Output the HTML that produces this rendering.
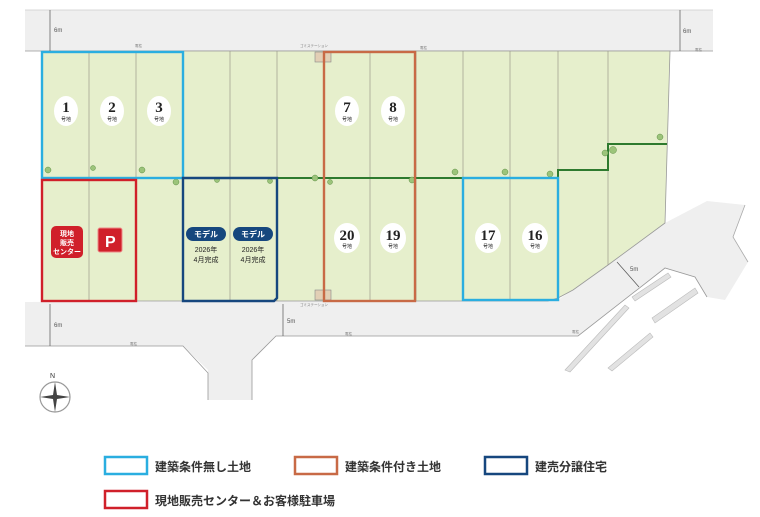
<!DOCTYPE html>
<html><head><meta charset="utf-8"><style>
html,body{margin:0;padding:0;background:#fff;}
svg{display:block;font-family:"Liberation Sans","Noto Sans CJK JP",sans-serif;}
</style></head><body>
<svg width="760" height="517" viewBox="0 0 760 517" xmlns="http://www.w3.org/2000/svg">
<rect x="25" y="10" width="688" height="41" fill="#efefef"/>
<line x1="25" y1="51" x2="713" y2="51" stroke="#999" stroke-width="0.8"/>
<line x1="25" y1="10" x2="713" y2="10" stroke="#ccc" stroke-width="0.8"/>
<polygon points="25,302 558,300 608,265 665,223 707,201 745,205 733,237 748,262 725,300 707,297 695,277 665,268 578,336 276,336 252,360 252,400 208,400 208,370 183,346 25,346" fill="#efefef"/>
<polyline points="25,346 183,346 208,373 208,400" fill="none" stroke="#999" stroke-width="0.8"/>
<polyline points="252,400 252,360 276,336 578,336 665,268 695,277 707,297" fill="none" stroke="#999" stroke-width="0.8"/>
<polyline points="745,205 733,237 748,262" fill="none" stroke="#aaa" stroke-width="0.8"/>
<g fill="#e2e2e2" stroke="#bbb" stroke-width="0.6">
<polygon points="632,297 668,273 671,277 635,301"/>
<polygon points="652,318 695,288 698,293 655,323"/>
<polygon points="565,370 625,305 629,308 570,372"/>
<polygon points="608,368 650,333 653,337 612,371"/>
</g>
<polygon points="42,51 670,51 665,223 608,265 573,290 558,298 548,301 42,301" fill="#e6efcc" stroke="#999" stroke-width="0.8"/>
<g stroke="#9a9a8a" stroke-width="0.7">
<line x1="89" y1="51" x2="89" y2="301"/><line x1="136" y1="51" x2="136" y2="301"/>
<line x1="183" y1="51" x2="183" y2="301"/><line x1="230" y1="51" x2="230" y2="301"/>
<line x1="277" y1="51" x2="277" y2="301"/><line x1="324" y1="51" x2="324" y2="301"/>
<line x1="370" y1="51" x2="370" y2="301"/><line x1="416" y1="51" x2="416" y2="301"/>
<line x1="463" y1="51" x2="463" y2="301"/><line x1="510" y1="51" x2="510" y2="301"/>
<line x1="558" y1="51" x2="558" y2="298"/><line x1="608" y1="51" x2="608" y2="265"/>
<line x1="42" y1="178" x2="183" y2="178"/>
</g>
<polyline points="183,178 558,178 558,170 608,170 608,144 667,144" fill="none" stroke="#2e7a2e" stroke-width="2"/>
<g fill="#9cc47a" stroke="#5e8f45" stroke-width="0.5">
<circle cx="48" cy="170" r="3"/><circle cx="93" cy="168" r="2.5"/><circle cx="142" cy="170" r="3"/><circle cx="176" cy="182" r="3"/><circle cx="217" cy="180" r="2.5"/><circle cx="270" cy="181" r="2.5"/><circle cx="315" cy="178" r="3"/><circle cx="330" cy="182" r="2.5"/><circle cx="412" cy="180" r="3"/><circle cx="455" cy="172" r="3"/><circle cx="505" cy="172" r="3"/><circle cx="550" cy="174" r="3"/><circle cx="605" cy="153" r="3"/><circle cx="613" cy="150" r="3.5"/><circle cx="660" cy="137" r="3"/>
</g>
<rect x="315" y="52" width="16" height="10" fill="#e2cfb5" stroke="#888" stroke-width="0.6"/>
<rect x="315" y="290" width="16" height="10" fill="#e2cfb5" stroke="#888" stroke-width="0.6"/>
<rect x="42" y="52" width="141" height="126" fill="none" stroke="#2aaee0" stroke-width="2.4"/>
<rect x="42" y="180" width="94" height="121" fill="none" stroke="#d0202a" stroke-width="2.4"/>
<path d="M183,178 H277 V298 L274,301 H183 Z" fill="none" stroke="#16477e" stroke-width="2.4"/>
<rect x="324" y="52" width="91" height="249" fill="none" stroke="#c86a46" stroke-width="2.4"/>
<rect x="463" y="178" width="95" height="122" fill="none" stroke="#2aaee0" stroke-width="2.4"/>
<g font-family="'Liberation Serif',serif" font-weight="bold" fill="#222" text-anchor="middle">
<g fill="#fff"><ellipse cx="66" cy="111" rx="12" ry="15"/><ellipse cx="112" cy="111" rx="12" ry="15"/><ellipse cx="159" cy="111" rx="12" ry="15"/><ellipse cx="347" cy="111" rx="12" ry="15"/><ellipse cx="393" cy="111" rx="12" ry="15"/><ellipse cx="347" cy="238" rx="13" ry="15"/><ellipse cx="393" cy="238" rx="13" ry="15"/><ellipse cx="488" cy="238" rx="13" ry="15"/><ellipse cx="535" cy="238" rx="13" ry="15"/></g>
<text x="66" y="112" font-size="15">1</text><text x="112" y="112" font-size="15">2</text><text x="159" y="112" font-size="15">3</text><text x="347" y="112" font-size="15">7</text><text x="393" y="112" font-size="15">8</text><text x="347" y="240" font-size="15">20</text><text x="393" y="240" font-size="15">19</text><text x="488" y="240" font-size="15">17</text><text x="535" y="240" font-size="15">16</text>
<g font-size="5" font-family="'Liberation Sans','Noto Sans CJK JP',sans-serif" font-weight="normal"><text x="66" y="121">号地</text><text x="112" y="121">号地</text><text x="159" y="121">号地</text><text x="347" y="121">号地</text><text x="393" y="121">号地</text><text x="347" y="248">号地</text><text x="393" y="248">号地</text><text x="488" y="248">号地</text><text x="535" y="248">号地</text></g>
</g>
<rect x="51" y="226" width="32" height="32" rx="5" fill="#d0202a"/>
<g fill="#fff" font-size="7" font-weight="bold" text-anchor="middle"><text x="67" y="236">現地</text><text x="67" y="245">販売</text><text x="67" y="254">センター</text></g>
<rect x="98" y="228" width="24" height="24" rx="2" fill="#d0202a" stroke="#e88" stroke-width="1"/>
<text x="105" y="247" fill="#fff" font-size="16" font-weight="bold">P</text>
<rect x="186" y="227" width="40" height="14" rx="7" fill="#16477e"/><rect x="233" y="227" width="40" height="14" rx="7" fill="#16477e"/>
<g font-size="8" text-anchor="middle" font-weight="bold"><text x="206" y="237" fill="#fff">モデル</text><text x="253" y="237" fill="#fff">モデル</text></g>
<g font-size="7" text-anchor="middle" fill="#222"><text x="206" y="252">2026年</text><text x="206" y="262">4月完成</text><text x="253" y="252">2026年</text><text x="253" y="262">4月完成</text></g>
<g stroke="#555" stroke-width="0.7"><line x1="50" y1="10" x2="50" y2="51"/><line x1="680" y1="10" x2="680" y2="51"/><line x1="50" y1="304" x2="50" y2="346"/><line x1="283" y1="304" x2="283" y2="336"/><line x1="617" y1="262" x2="639" y2="287"/></g>
<g font-size="6" fill="#555"><text x="54" y="32">6m</text><text x="683" y="33">6m</text><text x="54" y="327">6m</text><text x="287" y="323">5m</text><text x="630" y="271">5m</text></g>
<g font-size="3.5" fill="#777"><text x="300" y="47">ゴミステーション</text><text x="300" y="306">ゴミステーション</text><text x="135" y="47">電柱</text><text x="420" y="49">電柱</text><text x="695" y="51">電柱</text><text x="130" y="345">電柱</text><text x="345" y="335">電柱</text><text x="572" y="333">電柱</text></g>
<circle cx="55" cy="397" r="15" fill="none" stroke="#999" stroke-width="1.2"/>
<path d="M55,382 L57,395 L70,397 L57,399 L55,412 L53,399 L40,397 L53,395 Z" fill="#444"/>
<text x="50" y="378" font-size="7" fill="#333">N</text>
<g stroke-width="2.5" fill="none">
<rect x="105" y="457" width="42" height="17" stroke="#2aaee0"/>
<rect x="295" y="457" width="42" height="17" stroke="#c86a46"/>
<rect x="485" y="457" width="42" height="17" stroke="#16477e"/>
<rect x="105" y="491" width="42" height="17" stroke="#d0202a"/>
</g>
<g font-size="12" font-weight="bold" fill="#333"><text x="155" y="471">建築条件無し土地</text><text x="345" y="471">建築条件付き土地</text><text x="535" y="471">建売分譲住宅</text><text x="155" y="505">現地販売センター＆お客様駐車場</text></g>
</svg>
</body></html>
